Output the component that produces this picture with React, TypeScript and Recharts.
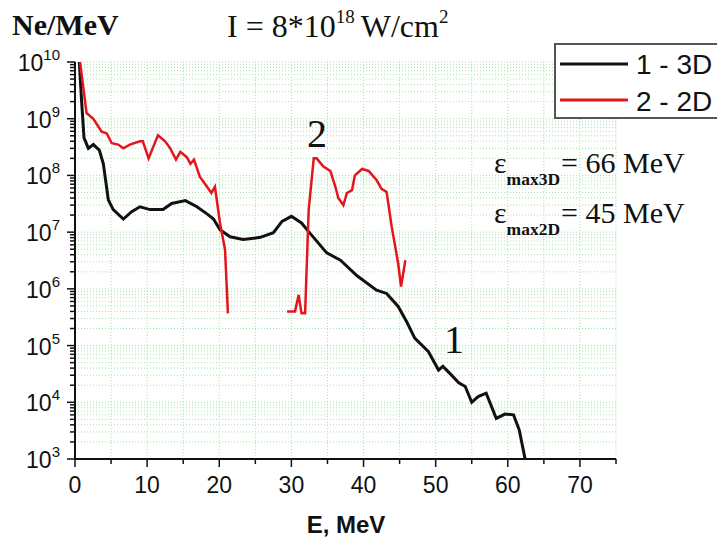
import React from "react";
import { LineChart, Line, XAxis, YAxis, CartesianGrid } from "recharts";

// Energy (MeV) and Ne/MeV for the 3D run (curve 1)
const E3D = [0.6, 0.93, 1.25, 1.85, 2.54, 3.37, 3.93, 4.62, 5.3, 6.7, 7.86, 9.0, 10.4, 12.2, 13.4, 15.3, 16.9, 18.3, 19.2, 20.1, 21.5, 23.3, 25.7, 27.5, 28.7, 30.0, 31.4, 32.5, 34.9, 36.8, 39.1, 41.8, 43.2, 44.8, 46.0, 47.1, 49.0, 50.4, 51.0, 52.0, 53.2, 54.1, 55.0, 55.9, 57.0, 58.4, 59.6, 60.8, 61.6, 62.4];
const N3D = [1e10, 1.9e9, 4.6e8, 3.0e8, 3.5e8, 2.8e8, 1.6e8, 3.7e7, 2.5e7, 1.7e7, 2.3e7, 2.8e7, 2.5e7, 2.5e7, 3.2e7, 3.6e7, 2.8e7, 2.1e7, 1.7e7, 1.1e7, 8.3e6, 7.4e6, 8.1e6, 9.8e6, 1.55e7, 1.9e7, 1.45e7, 9.8e6, 4.3e6, 3.2e6, 1.7e6, 9.5e5, 8.3e5, 4.9e5, 2.6e5, 1.35e5, 7.8e4, 3.7e4, 4.3e4, 3.2e4, 2.2e4, 1.9e4, 1.0e4, 1.26e4, 1.45e4, 5.2e3, 6.2e3, 6.0e3, 3.2e3, 1.0e3];

// 2D run (curve 2), low-energy part
const E2Da = [0.7, 1.6, 2.54, 3.7, 4.4, 5.1, 6.0, 6.7, 7.6, 9.0, 9.4, 10.2, 11.5, 12.5, 13.2, 14.0, 14.6, 15.5, 16.0, 16.5, 17.3, 18.3, 18.9, 19.4, 20.1, 20.8, 21.2];
const N2Da = [1e10, 1.26e9, 1.0e9, 5.9e8, 5.5e8, 3.7e8, 3.5e8, 3.0e8, 3.5e8, 4.0e8, 4.0e8, 2.0e8, 5.1e8, 4.0e8, 3.0e8, 1.9e8, 2.6e8, 2.1e8, 1.6e8, 1.9e8, 9.5e7, 6.3e7, 4.9e7, 6.3e7, 1.45e7, 4.9e6, 3.7e5];

// 2D run (curve 2), high-energy part
const E2Db = [29.4, 30.5, 31.0, 31.4, 31.9, 32.4, 33.1, 33.5, 34.4, 35.4, 36.1, 36.5, 37.2, 37.7, 38.4, 38.8, 39.8, 40.7, 41.8, 42.5, 43.2, 43.9, 44.4, 44.8, 45.2, 45.8];
const N2Db = [4.0e5, 4.0e5, 7.8e5, 3.7e5, 3.7e5, 2.5e7, 2.0e8, 2.0e8, 1.45e8, 1.2e8, 6.3e7, 4.0e7, 3.0e7, 4.9e7, 5.5e7, 1.0e8, 1.3e8, 1.2e8, 8.3e7, 5.8e7, 5.1e7, 1.26e7, 5.5e6, 2.8e6, 1.1e6, 3.2e6];

const X_TICKS = [0, 5, 10, 15, 20, 25, 30, 35, 40, 45, 50, 55, 60, 65, 70, 75];
const X_LABELS = [0, 10, 20, 30, 40, 50, 60, 70];
const DECADES = [3, 4, 5, 6, 7, 8, 9];
const Y_TICKS: number[] = [];
DECADES.forEach((d) => {
  for (let k = 1; k <= 9; k++) Y_TICKS.push(k * Math.pow(10, d));
});
Y_TICKS.push(1e10);

const LEGEND = [
  { name: "1 - 3D", color: "#111111" },
  { name: "2 - 2D", color: "#e3161c" },
];

const zip = (e: number[], n: number[]) => e.map((x, i) => ({ e: x, n: n[i] }));
const black = zip(E3D, N3D);
const redA = zip(E2Da, N2Da);
const redB = zip(E2Db, N2Db);

const SANS = "'Liberation Sans', Arial, sans-serif";
const SERIF = "'Liberation Serif', 'Times New Roman', serif";

const YTick = (props: any) => {
  const { x, y, payload } = props;
  const v = payload.value as number;
  const lg = Math.log10(v);
  const exp = Math.round(lg);
  const major = Math.abs(lg - exp) < 1e-6;
  return (
    <g>
      <line x1={x - (major ? 8 : 5)} x2={x} y1={y} y2={y} stroke="#111" strokeWidth={1.5} />
      {major && (
        <text x={x - 15} y={y + 9} textAnchor="end" fontFamily={SANS} fontSize={23} fill="#111">
          10
          <tspan dy={-11} fontSize={15}>{exp}</tspan>
        </text>
      )}
    </g>
  );
};

const XTick = (props: any) => {
  const { x, y, payload } = props;
  const v = payload.value as number;
  const labeled = X_LABELS.indexOf(v) >= 0;
  return (
    <g>
      <line x1={x} x2={x} y1={y} y2={y + (labeled ? 8 : 5)} stroke="#111" strokeWidth={1.5} />
      {labeled && (
        <text x={x} y={y + 34} textAnchor="middle" fontFamily={SANS} fontSize={23} fill="#111">
          {v}
        </text>
      )}
    </g>
  );
};

export default function App() {
  return (
    <div style={{ position: "absolute", left: 0, top: 0, width: 717, height: 538, background: "#fff" }}>
      <LineChart width={717} height={538} margin={{ top: 62, right: 101, bottom: 19, left: 15 }}>
        <CartesianGrid stroke="#a8e4a8" strokeDasharray="1 2" strokeWidth={1} />
        <XAxis
          dataKey="e"
          type="number"
          domain={[0, 75]}
          ticks={X_TICKS}
          allowDataOverflow
          height={60}
          tickSize={0}
          tickMargin={0}
          tick={<XTick />}
          axisLine={{ stroke: "#111", strokeWidth: 2 }}
          tickLine={false}
          interval={0}
        />
        <YAxis
          dataKey="n"
          type="number"
          scale="log"
          domain={[1e3, 1e10]}
          ticks={Y_TICKS}
          allowDataOverflow
          width={60}
          tickSize={0}
          tickMargin={0}
          tick={<YTick />}
          axisLine={{ stroke: "#111", strokeWidth: 2 }}
          tickLine={false}
          interval={0}
        />
        <Line data={black} dataKey="n" type="linear" stroke={LEGEND[0].color} strokeWidth={3} dot={false} isAnimationActive={false} />
        <Line data={redA} dataKey="n" type="linear" stroke={LEGEND[1].color} strokeWidth={2.5} dot={false} isAnimationActive={false} />
        <Line data={redB} dataKey="n" type="linear" stroke={LEGEND[1].color} strokeWidth={2.5} dot={false} isAnimationActive={false} />
      </LineChart>
      <svg width={717} height={538} style={{ position: "absolute", left: 0, top: 0, pointerEvents: "none" }}>
        <text x={12} y={35} fontFamily={SERIF} fontWeight="bold" fontSize={30} fill="#111">Ne/MeV</text>
        <text x={227} y={37} fontFamily={SERIF} fontSize={32} fill="#111">
          I = 8*10
          <tspan dy={-14} fontSize={19}>18</tspan>
          <tspan dy={14} dx={6}>W/cm</tspan>
          <tspan dy={-14} fontSize={19}>2</tspan>
        </text>
        <rect x={555} y={44} width={170} height={74} fill="#fff" stroke="#555" strokeWidth={2} />
        {LEGEND.map((l, i) => (
          <g key={l.name}>
            <line x1={560} x2={628} y1={64 + i * 36} y2={64 + i * 36} stroke={l.color} strokeWidth={3} />
            <text x={636} y={74 + i * 37} fontFamily={SANS} fontSize={28} fill="#111">{l.name}</text>
          </g>
        ))}
        <text x={494} y={173} fontFamily={SERIF} fontSize={30} fill="#111">
          ε
          <tspan dy={12} fontSize={17.5} fontWeight="bold">max3D</tspan>
          <tspan dy={-12} dx={1}>= 66 MeV</tspan>
        </text>
        <text x={494} y={223} fontFamily={SERIF} fontSize={30} fill="#111">
          ε
          <tspan dy={12} fontSize={17.5} fontWeight="bold">max2D</tspan>
          <tspan dy={-12} dx={1}>= 45 MeV</tspan>
        </text>
        <text x={317} y={147} textAnchor="middle" fontFamily={SERIF} fontSize={40} fill="#111">2</text>
        <text x={454} y={353} textAnchor="middle" fontFamily={SERIF} fontSize={40} fill="#111">1</text>
        <text x={346} y={533} textAnchor="middle" fontFamily={SANS} fontWeight="bold" fontSize={24} fill="#111">E, MeV</text>
      </svg>
    </div>
  );
}
